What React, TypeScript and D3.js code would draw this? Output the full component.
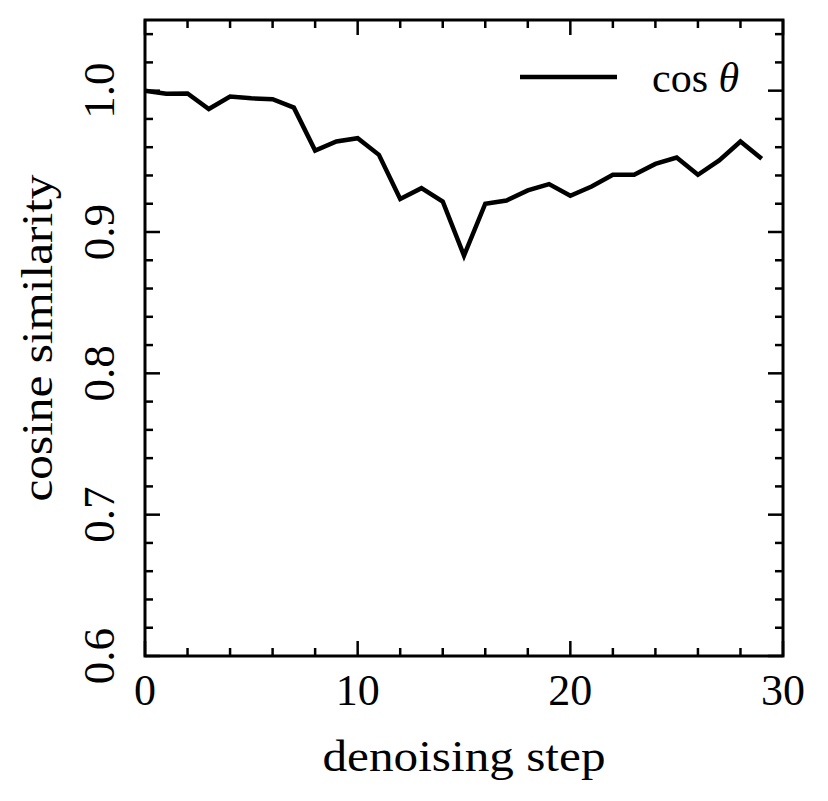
import React, { useEffect, useRef } from 'react';
import * as d3 from 'd3';

const STEPS = d3.range(0, 30);
const COS_SIM = [
  1.0, 0.9978, 0.998, 0.987, 0.9958, 0.9946, 0.994, 0.988, 0.9576, 0.964,
  0.9664, 0.9546, 0.9233, 0.931, 0.9216, 0.8833, 0.92, 0.9223, 0.9294, 0.9339,
  0.9256, 0.9322, 0.9405, 0.9405, 0.9482, 0.9527, 0.9405, 0.9506, 0.964, 0.9518,
];
const X_MAJOR = [0, 10, 20, 30];
const Y_MAJOR = [0.6, 0.7, 0.8, 0.9, 1.0];

const FONT = '"Liberation Serif", "DejaVu Serif", serif';

export default function App() {
  const svgRef = useRef<SVGSVGElement>(null);

  useEffect(() => {
    document.body.style.margin = '0';
    if (!svgRef.current) return;

    const m = { left: 145, right: 783, top: 20, bottom: 656 };

    const svg = d3.select(svgRef.current);
    svg.selectAll('*').remove();

    const x = d3.scaleLinear().domain([0, 30]).range([m.left, m.right]);
    const y = d3.scaleLinear().domain([0.6, 1.05]).range([m.bottom, m.top]);

    const xMinor = d3.range(0, 30.01, 2).filter((v) => !X_MAJOR.includes(v));
    const yMinor = d3.range(0.6, 1.051, 0.02).filter(
      (v) => !Y_MAJOR.some((t) => Math.abs(t - v) < 1e-6)
    );

    const ticks = svg.append('g').attr('stroke', '#000').attr('stroke-width', 2.5);

    // ticks point inward on all four sides
    const xt = [
      ...X_MAJOR.map((v) => ({ v, len: 15 })),
      ...xMinor.map((v) => ({ v, len: 8 })),
    ];
    xt.forEach(({ v, len }) => {
      ticks.append('line')
        .attr('x1', x(v)).attr('x2', x(v))
        .attr('y1', m.bottom).attr('y2', m.bottom - len);
      ticks.append('line')
        .attr('x1', x(v)).attr('x2', x(v))
        .attr('y1', m.top).attr('y2', m.top + len);
    });

    const yt = [
      ...Y_MAJOR.map((v) => ({ v, len: 15 })),
      ...yMinor.map((v) => ({ v, len: 8 })),
    ];
    yt.forEach(({ v, len }) => {
      ticks.append('line')
        .attr('x1', m.left).attr('x2', m.left + len)
        .attr('y1', y(v)).attr('y2', y(v));
      ticks.append('line')
        .attr('x1', m.right).attr('x2', m.right - len)
        .attr('y1', y(v)).attr('y2', y(v));
    });

    svg.append('rect')
      .attr('x', m.left).attr('y', m.top)
      .attr('width', m.right - m.left).attr('height', m.bottom - m.top)
      .attr('fill', 'none').attr('stroke', '#000').attr('stroke-width', 3);

    const line = d3.line<number>()
      .x((_, i) => x(STEPS[i]))
      .y((d) => y(d));

    svg.append('path')
      .datum(COS_SIM)
      .attr('d', line)
      .attr('fill', 'none')
      .attr('stroke', '#000')
      .attr('stroke-width', 4.5)
      .attr('stroke-linejoin', 'miter');

    const txt = svg.append('g').attr('font-family', FONT).attr('fill', '#000');

    X_MAJOR.forEach((v) => {
      txt.append('text')
        .attr('x', x(v)).attr('y', 705)
        .attr('text-anchor', 'middle')
        .attr('font-size', 44)
        .text(String(v));
    });

    Y_MAJOR.forEach((v) => {
      txt.append('text')
        .attr('transform', `translate(114, ${y(v)}) rotate(-90)`)
        .attr('text-anchor', 'middle')
        .attr('font-size', 45)
        .text(v.toFixed(1));
    });

    // axis labels (stretched to the width of the original's wider serif)
    txt.append('text')
      .attr('x', (m.left + m.right) / 2).attr('y', 771)
      .attr('text-anchor', 'middle')
      .attr('font-size', 44)
      .attr('textLength', 283)
      .attr('lengthAdjust', 'spacingAndGlyphs')
      .text('denoising step');

    txt.append('text')
      .attr('transform', `translate(52, ${(m.top + m.bottom) / 2}) rotate(-90)`)
      .attr('text-anchor', 'middle')
      .attr('font-size', 44)
      .attr('textLength', 327)
      .attr('lengthAdjust', 'spacingAndGlyphs')
      .text('cosine similarity');

    // legend
    svg.append('line')
      .attr('x1', 520).attr('x2', 617)
      .attr('y1', 77).attr('y2', 77)
      .attr('stroke', '#000').attr('stroke-width', 4.5);

    const leg = txt.append('text')
      .attr('x', 652).attr('y', 92)
      .attr('font-size', 42);
    leg.append('tspan').text('cos ');
    leg.append('tspan').attr('font-style', 'italic').text('θ');
  }, []);

  return (
    <svg ref={svgRef} width={828} height={801} viewBox="0 0 828 801" style={{ display: 'block', background: '#fff' }} />
  );
}
